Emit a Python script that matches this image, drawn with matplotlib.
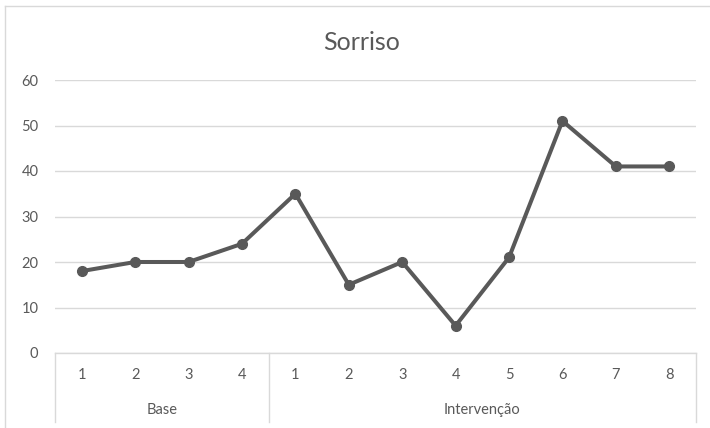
import matplotlib
matplotlib.use("Agg")
import matplotlib.pyplot as plt
from matplotlib.lines import Line2D
import matplotlib.transforms as mtransforms

title = "Sorriso"
groups = ["Base", "Intervenção"]
group_ticks = [["1", "2", "3", "4"], ["1", "2", "3", "4", "5", "6", "7", "8"]]
values = [18, 20, 20, 24, 35, 15, 20, 6, 21, 51, 41, 41]
y_ticks = [0, 10, 20, 30, 40, 50, 60]

plt.rcParams['font.family'] = ['Lato', 'DejaVu Sans']
txt = "#595959"
grid = "#d9d9d9"

fig = plt.figure(figsize=(7.1, 4.28), dpi=100)
W, H = 710, 428
ax = fig.add_axes([55 / W, 1 - 353 / H, (696 - 55) / W, (353 - 80) / H])

n = len(values)
x = list(range(n))
ax.plot(x, values, color="#595959", lw=2.9, marker="o", ms=7, solid_joinstyle="round", zorder=3)

ax.set_xlim(-0.5, n - 0.5)
ax.set_ylim(min(y_ticks), max(y_ticks))
ax.set_yticks(y_ticks)
ax.yaxis.grid(True, color=grid, lw=1)
ax.set_axisbelow(True)
for s in ax.spines.values():
    s.set_visible(False)
ax.tick_params(axis="y", length=0, pad=12, labelcolor=txt, labelsize=10.5)

labels = [t for g in group_ticks for t in g]
ax.set_xticks(x)
ax.set_xticklabels(labels)
ax.tick_params(axis="x", length=0, pad=11, labelcolor=txt, labelsize=10.5)

trans = mtransforms.blended_transform_factory(ax.transData, ax.transAxes)
px = 1 / (353 - 80)
# baseline
ax.add_line(Line2D([-0.5, n - 0.5], [0, 0], transform=trans, color=grid, lw=1, clip_on=False))
# group separators and labels
start = 0
bounds = [-0.5]
for g, ticks in zip(groups, group_ticks):
    end = start + len(ticks)
    bounds.append(end - 0.5)
    center = (start + end - 1) / 2
    ax.text(center, -57 * px, g, transform=trans, ha="center", va="center", color=txt, fontsize=10.5)
    start = end
for b in bounds:
    ax.add_line(Line2D([b, b], [0, -69 * px], transform=trans, color=grid, lw=1, clip_on=False))

fig.text(362 / W, 1 - 42 / H, title, ha="center", va="center", color=txt, fontsize=18)

# chart area border
fig.add_artist(Line2D([5 / W, 5 / W], [1 - 6 / H, 0], transform=fig.transFigure, color=grid, lw=1))
fig.add_artist(Line2D([5 / W, 1], [1 - 6 / H, 1 - 6 / H], transform=fig.transFigure, color=grid, lw=1))

fig.savefig("out.png", dpi=100)
